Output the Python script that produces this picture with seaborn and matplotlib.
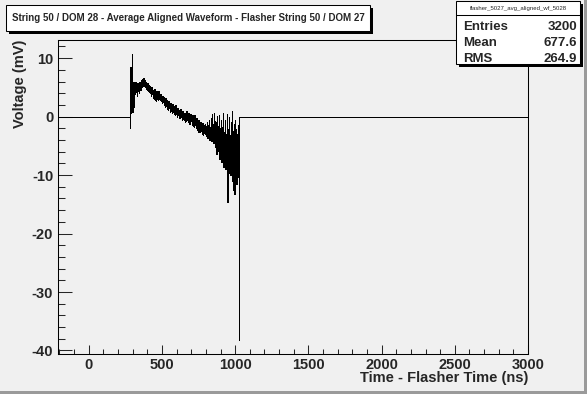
import numpy as np
import pandas as pd
import seaborn as sns
import matplotlib
matplotlib.use("Agg")
import matplotlib.pyplot as plt
from matplotlib.patches import Rectangle
from matplotlib.lines import Line2D
from matplotlib.ticker import MultipleLocator

# ---------------- data ----------------
title = "String 50 / DOM 28 - Average Aligned Waveform - Flasher String 50 / DOM 27"
hist_name = "flasher_5027_avg_aligned_wf_5028"
stats_labels = ["Entries", "Mean", "RMS"]
stats_values = ["3200", "677.6", "264.9"]
x_label = "Time - Flasher Time (ns)"
y_label = "Voltage (mV)"

x_range = [-210, 3000]          # histogram axis range (ns)
y_range = [-40.6, 13.1]         # displayed voltage range (mV)
wave_start_ns = 280.0           # first non-zero sample
wave_end_ns = 1027.0            # end of last non-zero sample

# sample values (mV), in time order
volts = [-1.9, 8.4, 0.7, 3.4, 10.7, 0.8, 2.7, 5.9, 1.6, 5.6, 3.8, 5.9, 4.2, 5.0,
         3.5, 5.8, 4.3, 5.2, 4.0, 6.0, 4.5, 5.6, 4.6, 6.2, 5.0, 6.4, 5.2, 6.6,
         5.3, 6.2, 5.0, 5.9, 4.8, 5.7, 4.6, 5.8, 4.4, 5.4, 4.2, 5.2, 4.0, 4.9,
         3.6, 5.0, 3.8, 4.6, 3.2, 4.4, 3.0, 4.7, 2.8, 4.2, 2.7, 4.4, 3.0, 4.1,
         2.8, 4.3, 3.0, 3.9, 2.9, 3.8, 2.6, 3.6, 2.3, 3.5, 2.5, 3.4, 2.0, 3.0,
         1.6, 3.1, 1.8, 2.8, 1.3, 2.6, 1.2, 2.7, 1.4, 2.2, 0.8, 2.4, 1.0, 2.0,
         0.6, 2.2, 0.8, 1.8, 0.4, 1.6, 0.2, 1.9, 0.5, 1.4, 0.0, 1.5, 0.2, 1.1,
         -0.2, 0.9, -0.3, 1.3, -0.1, 0.8, -0.5, 1.0, -0.4, 0.6, -0.6, 0.7, -0.9,
         0.4, -0.7, 0.9, -0.5, 0.3, -1.0, 0.6, -1.2, 0.2, -1.3, 0.5, -0.8, 0.0,
         -1.4, 0.3, -1.6, -0.2, -1.8, 0.2, -1.5, -0.4, -2.0, -0.3, -2.3, -0.8,
         -2.6, -0.6, -2.7, -1.0, -2.7, -0.9, -2.4, -1.3, -2.9, -1.1, -3.2, -1.5,
         -2.8, -1.2, -3.0, -1.6, -3.4, -1.0, -3.6, -1.4, -3.3, -0.6, -4.0, -1.8,
         -3.8, -0.3, -4.2, 0.5, -3.5, -1.2, -4.6, 0.7, -4.0, -0.8, -5.2, -1.0,
         -6.4, 0.1, -5.0, -1.6, -5.8, 0.2, -7.2, -2.0, -6.0, -0.6, -7.8, -1.8,
         -6.8, 0.7, -8.7, -2.6, -7.4, -0.5, -9.0, -3.0, -8.2, 0.5, -14.6, -2.2,
         -9.6, -0.1, -8.8, -3.2, -10.0, -1.0, -8.4, 1.0, -11.0, -2.4, -12.6,
         -1.2, -13.2, -0.6, -9.8, -2.1, -11.5, -3.0, -9.5, -1.4, -10.4, -38.2]

# ---------------- style ----------------
sns.set_style("ticks")
plt.rcParams['font.family'] = ['Liberation Sans', 'DejaVu Sans']
plt.rcParams['font.weight'] = 'bold'
plt.rcParams['axes.unicode_minus'] = False

W, H = 587, 394
BG = '#f0f0f0'
fig = plt.figure(figsize=(W / 100, H / 100), dpi=100, facecolor=BG)


def fx(px):
    return px / W


def fy(py):
    return 1 - py / H


ax = fig.add_axes([fx(58), fy(354), (528 - 58) / W, (354 - 40) / H])
ax.set_facecolor(BG)

n = len(volts)
dt = (wave_end_ns - wave_start_ns) / n
t = np.concatenate([[x_range[0]], wave_start_ns + dt * np.arange(n),
                    [wave_end_ns, x_range[1]]])
v = [0.0] + volts + [0.0, 0.0]
df = pd.DataFrame({"t": t, "v": v})

sns.lineplot(data=df, x="t", y="v", ax=ax, estimator=None, sort=False,
             drawstyle="steps-post", color="black", linewidth=0.6,
             antialiased=False)

ax.set_xlim(*x_range)
ax.set_ylim(*y_range)
ax.xaxis.set_major_locator(MultipleLocator(500))
ax.xaxis.set_minor_locator(MultipleLocator(100))
ax.yaxis.set_major_locator(MultipleLocator(10))
ax.yaxis.set_minor_locator(MultipleLocator(2))
ax.tick_params(which='both', direction='in', top=False, right=False,
               width=0.75, labelsize=10.5)
ax.tick_params(axis='x', which='major', length=6.5, pad=3)
ax.tick_params(axis='x', which='minor', length=3.5)
ax.tick_params(axis='y', which='major', length=10, pad=3.5)
ax.tick_params(axis='y', which='minor', length=5)
for lab in ax.get_xticklabels() + ax.get_yticklabels():
    lab.set_fontweight('bold')
for s in ax.spines.values():
    s.set_visible(True)
    s.set_linewidth(0.75)
    s.set_color('black')

ax.set_xlabel(x_label, loc='right', fontsize=10.5, fontweight='bold')
ax.xaxis.set_label_coords(1.0, -0.055)
ax.xaxis.label.set_va('top')
ax.set_ylabel(y_label, loc='top', fontsize=10.5, fontweight='bold')
ax.yaxis.set_label_coords(-0.066, 1.0)


def box(x0, y0, x1, y1, shadow=3):
    fig.add_artist(Rectangle((fx(x0 + shadow), fy(y1 + shadow)),
                             (x1 - x0) / W, (y1 - y0) / H,
                             transform=fig.transFigure, facecolor='black',
                             edgecolor='none', zorder=5))
    fig.add_artist(Rectangle((fx(x0), fy(y1)), (x1 - x0) / W, (y1 - y0) / H,
                             transform=fig.transFigure, facecolor='white',
                             edgecolor='black', linewidth=0.75, zorder=6))


# title pave
box(6, 5, 370, 31)
fig.text(fx(188), fy(18), title, ha='center', va='center', fontsize=7,
         fontweight='bold', zorder=7)

# stats pave
box(456, 1, 580, 64)
fig.add_artist(Line2D([fx(456), fx(580)], [fy(15), fy(15)],
                      transform=fig.transFigure, color='black', lw=0.75,
                      zorder=7))
fig.text(fx(518), fy(8.3), hist_name, ha='center', va='center', fontsize=4.3,
         fontweight='normal', zorder=7)
for i, (lab, val) in enumerate(zip(stats_labels, stats_values)):
    yy = 27.5 + 16.0 * i
    fig.text(fx(463), fy(yy), lab, ha='left', va='center', fontsize=9.5,
             fontweight='bold', zorder=7)
    fig.text(fx(577), fy(yy), val, ha='right', va='center', fontsize=9.5,
             fontweight='bold', zorder=7)

# canvas bevel border
fig.add_artist(Rectangle((fx(584), 0), 3 / W, 1, transform=fig.transFigure,
                         facecolor='#9a9a9a', edgecolor='none', zorder=8))
fig.add_artist(Rectangle((0, 0), 1, 3 / H, transform=fig.transFigure,
                         facecolor='#9a9a9a', edgecolor='none', zorder=8))

fig.savefig("out.png", dpi=100, facecolor=BG)
